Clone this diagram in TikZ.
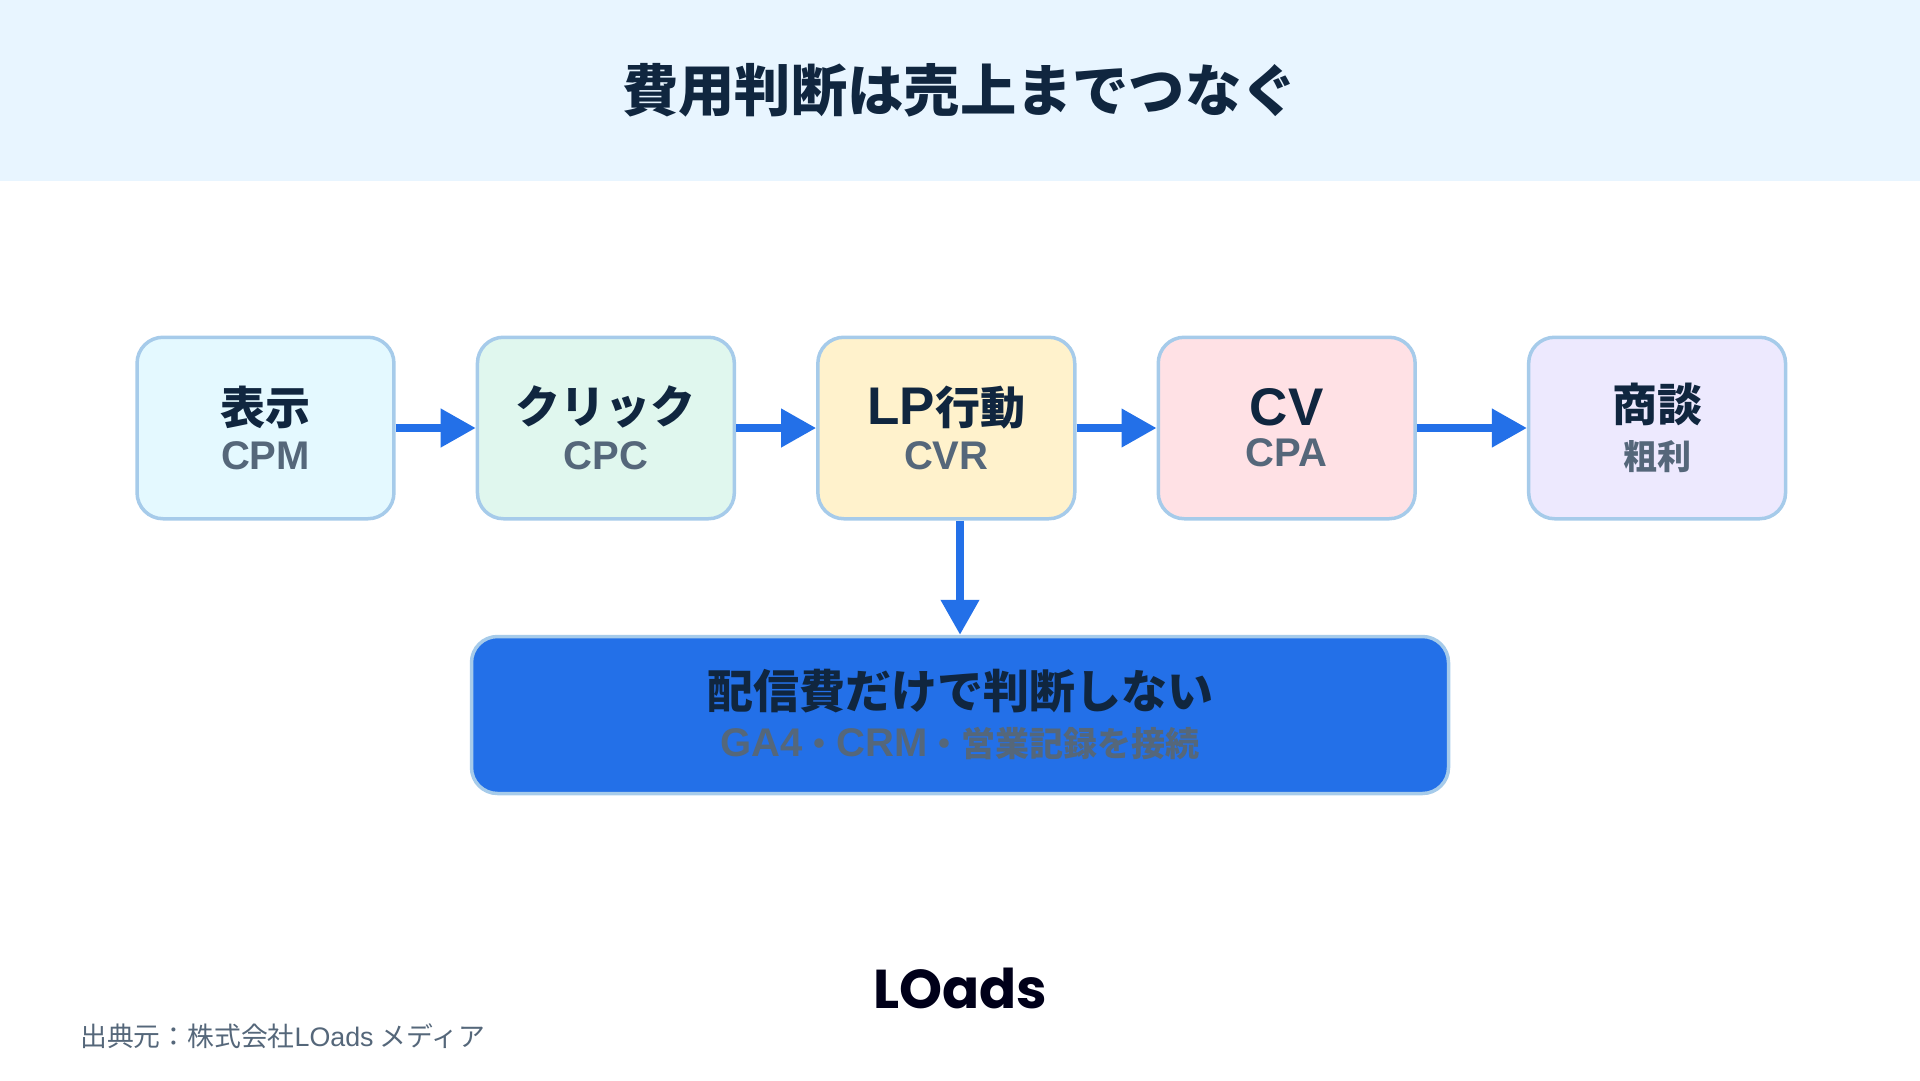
\documentclass[tikz,border=0pt]{standalone}
\usepackage{fontspec}
\setmainfont{Noto Sans CJK JP}
\newfontfamily\latinfont{Liberation Sans}
\newfontfamily\logofont{Poppins}
\usetikzlibrary{positioning, arrows.meta}

\definecolor{headbg}{HTML}{E8F5FF}
\definecolor{edgeblue}{HTML}{A6CBEA}
\definecolor{flowblue}{HTML}{2370E8}
\definecolor{inkdark}{HTML}{10263F}
\definecolor{inksub}{HTML}{55677A}
\definecolor{fillshow}{HTML}{E4F9FF}
\definecolor{fillclick}{HTML}{E0F7EE}
\definecolor{filllp}{HTML}{FFF2CC}
\definecolor{fillcv}{HTML}{FFE1E5}
\definecolor{filldeal}{HTML}{EDE9FE}

\newcommand{\bigltn}[1]{{\latinfont\fontsize{53}{48}\selectfont #1}}
\newcommand{\subltn}[1]{{\latinfont\fontsize{40}{48}\selectfont #1}}
\newcommand{\stagetext}[3][-2.5pt]{{\fontsize{45}{48}\selectfont\color{inkdark}#2}\\[#1]{\fontsize{34}{48}\selectfont\color{inksub}#3}}

\begin{document}
\begin{tikzpicture}[x=1pt, y=1pt, node distance=80pt]

	\tikzstyle{stagebox}=[draw=edgeblue, line width=3.5pt, rounded corners=26pt, minimum width=256.9pt, minimum height=181.5pt, align=center, inner sep=0pt, font=\bfseries\fontsize{34}{48}\selectfont]
	\tikzstyle{flow}=[flowblue, line width=7.5pt, -{Triangle[length=35pt, width=37pt]}]

	\useasboundingbox (0,0) rectangle (1920,-1080);

	\node[fill=headbg, minimum width=1920pt, minimum height=181pt, inner sep=0pt, font=\bfseries\fontsize{56.3}{60}\selectfont, text=inkdark] (header) at (960,-90.5) {費用判断は売上までつなぐ};

	\node[stagebox, fill=fillshow] (show) at (265.5,-428) {\stagetext{表示}{\subltn{CPM}}};
	\node[stagebox, fill=fillclick, right=of show] (click) {\stagetext{クリック}{\subltn{CPC}}};
	\node[stagebox, fill=filllp, right=of click] (lp) {\stagetext{\bigltn{LP}行動}{\subltn{CVR}}};
	\node[stagebox, fill=fillcv, right=of lp] (cv) {\stagetext[-7pt]{\bigltn{CV}}{\subltn{CPA}}};
	\node[stagebox, fill=filldeal, right=110pt of cv] (deal) {\stagetext[0pt]{商談}{粗利}};

	\node[stagebox, fill=flowblue, minimum width=977pt, minimum height=157pt] (goal) at (960,-715) {{\fontsize{46}{50}\selectfont\color{inkdark}配信費だけで判断しない}\\{\color{inksub}\subltn{GA4}・\subltn{CRM}・営業記録を接続}};

	\draw[flow] (show) -- (click);
	\draw[flow] (click) -- (lp);
	\draw[flow] (lp) -- (cv);
	\draw[flow] (cv) -- (deal);
	\draw[flow] (lp.south -| goal.north) -- (goal.north);

	% footer
	\node[font=\logofont\bfseries\fontsize{54.7}{58}\selectfont, text=black!90!blue] (logo) at (960,-988) {LOads};
	\node[anchor=west, inner sep=0pt, font=\fontsize{26.8}{30}\selectfont, text=inksub] (source) at (80,-1036) {出典元：株式会社{\latinfont LOads} メディア};

\end{tikzpicture}
\end{document}
